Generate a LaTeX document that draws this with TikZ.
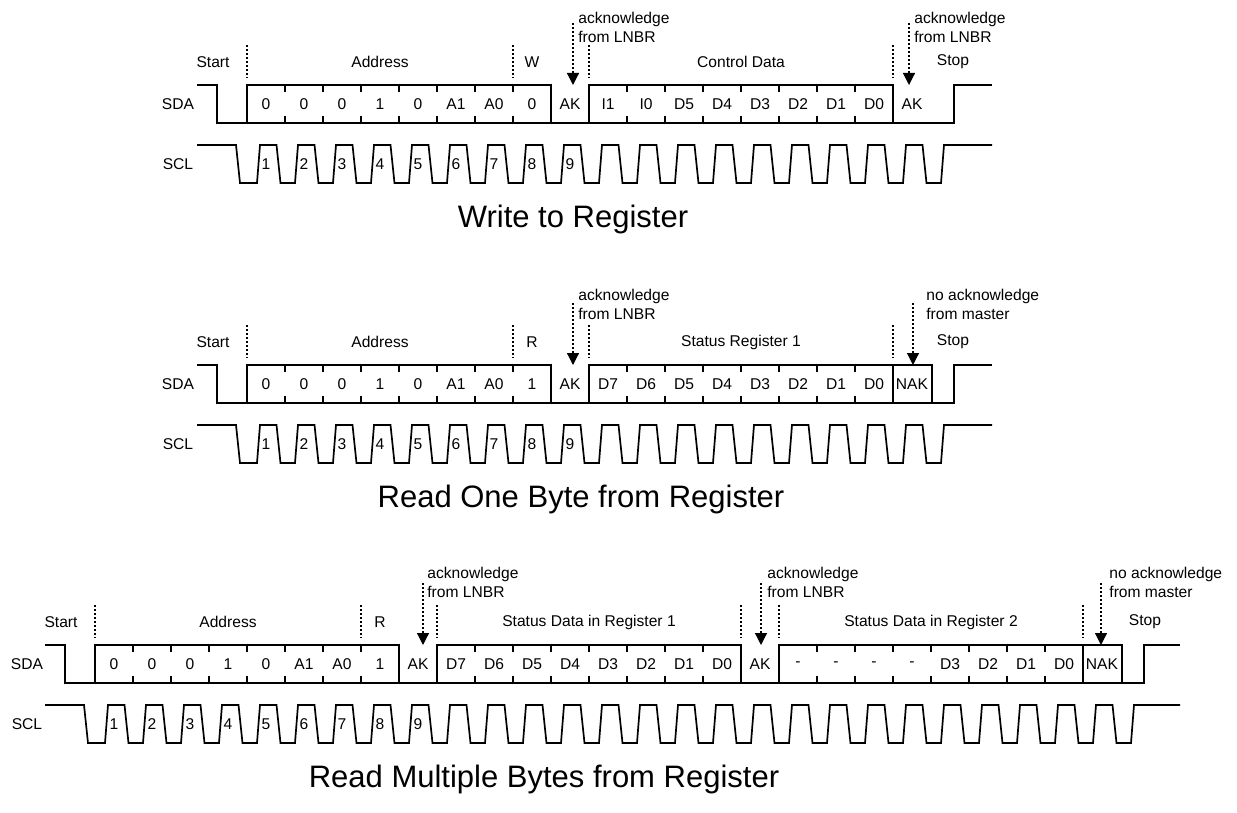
\documentclass[tikz,border=0pt]{standalone}
\usepackage{fontspec}
\setmainfont{Liberation Sans}
\usetikzlibrary{arrows.meta}
\tikzstyle{wave} = [draw, line width=0.85pt]
\tikzstyle{boundary} = [draw, line width=0.6pt, dash pattern=on 1pt off 1pt]
\tikzstyle{ackline} = [draw, line width=0.6pt, dash pattern=on 1pt off 1pt, -{Triangle[length=6pt,width=6pt]}]
\tikzstyle{sig} = [font=\fontsize{7.8}{9.5}\selectfont, inner sep=0pt]
\tikzstyle{bit} = [sig]
\tikzstyle{field} = [sig]
\tikzstyle{note} = [sig, align=left, anchor=west]
\tikzstyle{heading} = [font=\fontsize{15.5}{18}\selectfont, inner sep=0pt]
% small ticks between the bits of a byte (cell numbers)
\newcommand{\bitticks}[2]{\foreach \i in {#1,...,#2}
    \draw[wave] ({38*\i},0) -- ++(0,7) ({38*\i},38) -- ++(0,-7);}

\begin{document}
\begin{tikzpicture}[x=0.5pt, y=-0.5pt]
    \useasboundingbox (0,0) rectangle (1237,813);
    % Write to Register
    \begin{scope}[shift={(247,85)}]
        \node[sig] (wsda) at (-69,19) {SDA};
        \node[sig] (wscl) at (-69,79) {SCL};
        % SDA
        \draw[wave] (-50,0) -- (-30,0) -- (-30,38) -- (707,38) -- (707,0) -- (745,0);
        \draw[wave] (0,0) rectangle (304,38) (342,0) rectangle (646,38);
        \bitticks{1}{7}
        \bitticks{10}{16}
        % SCL
        \draw[wave] (-50,60) -- (-11,60) -- (-7,98)
            \foreach \k in {1,...,18} { -- ({38*\k-28},98) -- ({38*\k-25},60) -- ({38*\k-8.5},60) -- ({38*\k-4.5},98) }
            -- (694,98) -- (697,60) -- (745,60);
        \foreach \t [count=\i] in {0,0,0,1,0,A1,A0,0,AK,I1,I0,D5,D4,D3,D2,D1,D0,AK}
            \node[bit] (w\i) at ({38*\i-19},19) {\t};
        \foreach \k in {1,...,9}
            \node[bit] (wc\k) at ({38*\k-19},79) {\k};
        % fields
        \node[field] (wstart) at (-34,-23) {Start};
        \node[field] (waddr) at (133,-23) {Address};
        \node[field] (wrw) at (285,-23) {W};
        \node[field] (wdata) at (494,-23) {Control Data};
        \node[field] (wstop) at (706,-23) {Stop};
        \foreach \x in {0,266,342,646}
            \draw[boundary] (\x,-40) -- (\x,-7);
        % acknowledges
        \coordinate (wa1) at (326,-62);
        \coordinate (wa1tip) at (326,0);
        \coordinate (wa2) at (662,-62);
        \coordinate (wa2tip) at (662,0);
        \draw[ackline] (wa1) -- (wa1tip);
        \draw[ackline] (wa2) -- (wa2tip);
        \node[note] (wn1) at (331,-58) {acknowledge\\from LNBR};
        \node[note] (wn2) at (667,-58) {acknowledge\\from LNBR};
        \node[heading] (wtitle) at (326,134) {Write to Register};
    \end{scope}
    % Read One Byte from Register
    \begin{scope}[shift={(247,365)}]
        \node[sig] (rsda) at (-69,19) {SDA};
        \node[sig] (rscl) at (-69,79) {SCL};
        % SDA
        \draw[wave] (-50,0) -- (-30,0) -- (-30,38) -- (707,38) -- (707,0) -- (745,0);
        \draw[wave] (0,0) rectangle (304,38) (342,0) rectangle (685,38) (646,0) -- (646,38);
        \bitticks{1}{7}
        \bitticks{10}{16}
        % SCL
        \draw[wave] (-50,60) -- (-11,60) -- (-7,98)
            \foreach \k in {1,...,18} { -- ({38*\k-28},98) -- ({38*\k-25},60) -- ({38*\k-8.5},60) -- ({38*\k-4.5},98) }
            -- (694,98) -- (697,60) -- (745,60);
        \foreach \t [count=\i] in {0,0,0,1,0,A1,A0,1,AK,D7,D6,D5,D4,D3,D2,D1,D0,NAK}
            \node[bit] (r\i) at ({38*\i-19},19) {\t};
        \foreach \k in {1,...,9}
            \node[bit] (rc\k) at ({38*\k-19},79) {\k};
        % fields
        \node[field] (rstart) at (-34,-23) {Start};
        \node[field] (raddr) at (133,-23) {Address};
        \node[field] (rrw) at (285,-23) {R};
        \node[field] (rdata) at (494,-23) {Status Register 1};
        \node[field] (rstop) at (706,-23) {Stop};
        \foreach \x in {0,266,342,646}
            \draw[boundary] (\x,-40) -- (\x,-7);
        % acknowledges
        \coordinate (ra1) at (326,-62);
        \coordinate (ra1tip) at (326,0);
        \coordinate (ra2) at (666,-62);
        \coordinate (ra2tip) at (666,0);
        \draw[ackline] (ra1) -- (ra1tip);
        \draw[ackline] (ra2) -- (ra2tip);
        \node[note] (rn1) at (331,-61) {acknowledge\\from LNBR};
        \node[note] (rn2) at (679,-61) {no acknowledge\\from master};
        \node[heading] (rtitle) at (334,134) {Read One Byte from Register};
    \end{scope}
    % Read Multiple Bytes from Register
    \begin{scope}[shift={(95,645)}]
        \node[sig] (msda) at (-68,19) {SDA};
        \node[sig] (mscl) at (-68,79) {SCL};
        % SDA
        \draw[wave] (-50,0) -- (-30,0) -- (-30,38) -- (1049,38) -- (1049,0) -- (1085,0);
        \draw[wave] (0,0) rectangle (304,38) (342,0) rectangle (646,38)
            (684,0) rectangle (1027,38) (988,0) -- (988,38);
        \bitticks{1}{7}
        \bitticks{10}{16}
        \bitticks{19}{25}
        % SCL
        \draw[wave] (-50,60) -- (-11,60) -- (-7,98)
            \foreach \k in {1,...,27} { -- ({38*\k-28},98) -- ({38*\k-25},60) -- ({38*\k-8.5},60) -- ({38*\k-4.5},98) }
            -- (1036,98) -- (1039,60) -- (1085,60);
        \foreach \t [count=\i] in {0,0,0,1,0,A1,A0,1,AK,D7,D6,D5,D4,D3,D2,D1,D0,AK,-,-,-,-,D3,D2,D1,D0,NAK}
            \node[bit] (m\i) at ({38*\i-19},19) {\t};
        \foreach \k in {1,...,9}
            \node[bit] (mc\k) at ({38*\k-19},79) {\k};
        % fields
        \node[field] (mstart) at (-34,-23) {Start};
        \node[field] (maddr) at (133,-23) {Address};
        \node[field] (mrw) at (285,-23) {R};
        \node[field] (mdata1) at (494,-23) {Status Data in Register 1};
        \node[field] (mdata2) at (836,-23) {Status Data in Register 2};
        \node[field] (mstop) at (1050,-23) {Stop};
        \foreach \x in {0,266,342,646,684,988}
            \draw[boundary] (\x,-40) -- (\x,-7);
        % acknowledges
        \coordinate (ma1) at (328,-62);
        \coordinate (ma1tip) at (328,0);
        \coordinate (ma2) at (666,-62);
        \coordinate (ma2tip) at (666,0);
        \coordinate (ma3) at (1006,-62);
        \coordinate (ma3tip) at (1006,0);
        \draw[ackline] (ma1) -- (ma1tip);
        \draw[ackline] (ma2) -- (ma2tip);
        \draw[ackline] (ma3) -- (ma3tip);
        \node[note] (mn1) at (332,-63) {acknowledge\\from LNBR};
        \node[note] (mn2) at (672,-63) {acknowledge\\from LNBR};
        \node[note] (mn3) at (1014,-63) {no acknowledge\\from master};
        \node[heading] (mtitle) at (449,134) {Read Multiple Bytes from Register};
    \end{scope}
\end{tikzpicture}
\end{document}
